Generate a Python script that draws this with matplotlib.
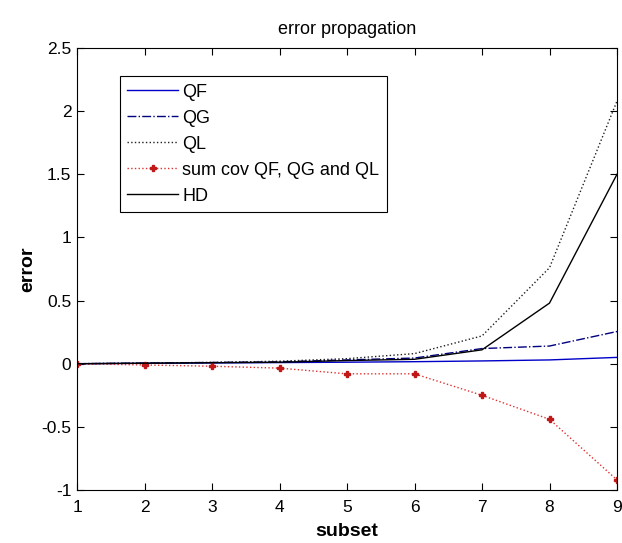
import matplotlib.pyplot as plt
import numpy as np

plt.rcParams['font.family'] = ['Liberation Sans', 'DejaVu Sans']
plt.rcParams['axes.unicode_minus'] = False

# data
subset = [1, 2, 3, 4, 5, 6, 7, 8, 9]
qf = [0.0, 0.003, 0.006, 0.009, 0.012, 0.016, 0.022, 0.03, 0.05]
qg = [0.0, 0.005, 0.01, 0.015, 0.03, 0.045, 0.12, 0.14, 0.255]
ql = [0.0, 0.005, 0.01, 0.02, 0.04, 0.08, 0.22, 0.76, 2.08]
sumcov = [0.0, -0.01, -0.02, -0.035, -0.08, -0.08, -0.25, -0.44, -0.92]
hd = [0.0, 0.004, 0.008, 0.012, 0.025, 0.035, 0.11, 0.48, 1.5]

fig = plt.figure(figsize=(6.22, 5.43), dpi=100)
ax = fig.add_axes([77/622, 1-490/543, 540/622, 442/543])

ax.plot(subset, qf, '-', color='#0000c8', lw=1.0, label='QF')
ax.plot(subset, qg, '-.', color='#00007f', lw=1.0, label='QG')
ax.plot(subset, ql, ':', color='#202020', lw=1.0, label='QL')
ax.plot(subset, sumcov, ':', color='#e03030', lw=1.0, marker='P', ms=4,
        mfc='#c01818', mec='#c01818', label='sum cov QF, QG and QL')
ax.plot(subset, hd, '-', color='black', lw=1.0, label='HD')

ax.set_xlim(1, 9)
ax.set_ylim(-1, 2.5)
ax.set_xticks(subset)
ax.set_yticks([-1, -0.5, 0, 0.5, 1, 1.5, 2, 2.5])
ax.set_yticklabels(['-1', '-0.5', '0', '0.5', '1', '1.5', '2', '2.5'])
ax.tick_params(direction='in', top=True, right=True, labelsize=12.5, length=5,
               width=0.8)
ax.tick_params(axis='y', pad=4)
ax.tick_params(axis='x', pad=7)
for s in ax.spines.values():
    s.set_linewidth(0.8)

ax.set_title('error propagation', fontsize=13, pad=10)
ax.set_xlabel('subset', fontsize=14, fontweight='bold', labelpad=6)
ax.set_ylabel('error', fontsize=14, fontweight='bold', labelpad=4)

leg = ax.legend(loc='upper left', bbox_to_anchor=(0.08, 0.936), fontsize=13,
                handlelength=2.8, fancybox=False, framealpha=1,
                edgecolor='black', borderpad=0.4, labelspacing=0.5,
                handletextpad=0.25, borderaxespad=0)
leg.get_frame().set_linewidth(0.8)

fig.savefig('out.png', dpi=100)
